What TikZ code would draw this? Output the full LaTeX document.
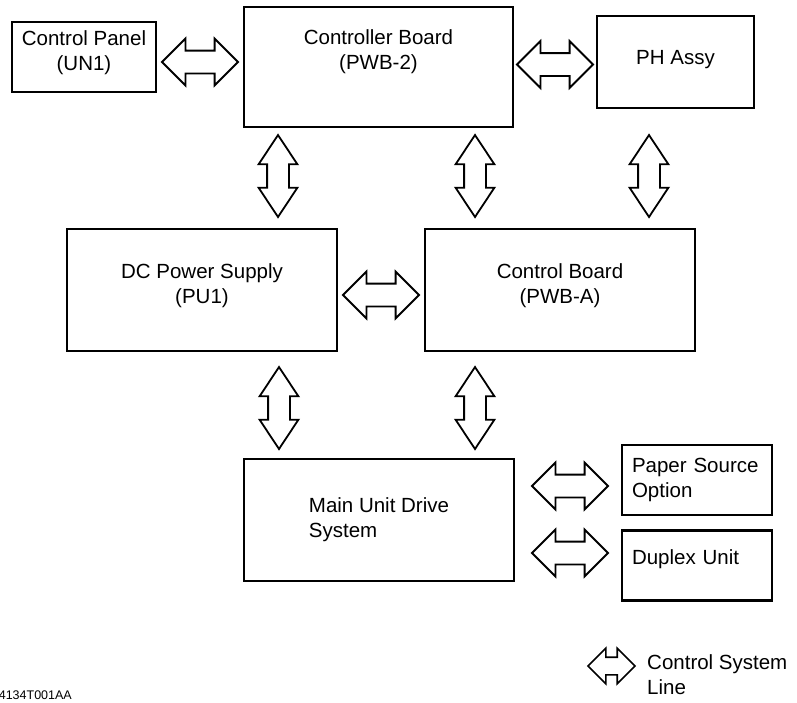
\documentclass[tikz,border=0pt]{standalone}
\usepackage{fontspec}
\setmainfont{Liberation Sans}
\usetikzlibrary{shapes.arrows,positioning,calc}

\begin{document}
\begin{tikzpicture}[
    x=1pt, y=-1pt,
    font=\fontsize{20.5}{25}\selectfont,
    unit/.style={
        draw,
        line width=2.6pt,
        align=center,
        inner sep=0pt
    },
    link/.style={
        draw,
        line width=1.8pt,
        double arrow,
        double arrow tip angle=90,
        double arrow head extend=12pt,
        minimum height=76pt,
        inner xsep=0pt,
        inner ysep=10.5pt
    },
    vlink/.style={
        link,
        rotate=90,
        double arrow tip angle=67,
        double arrow head extend=8.5pt,
        minimum height=82pt,
        inner ysep=10pt
    }
]
\useasboundingbox (0,0) rectangle (797,702);

\node[unit, minimum width=144pt, minimum height=70pt, text depth=12pt] (panel) at (84,57) {Control Panel\\(UN1)};
\node[unit, minimum width=269pt, minimum height=120pt, text depth=34pt] (ctrl) at (378.5,67) {Controller Board\\(PWB-2)};
\node[unit, minimum width=157pt, minimum height=92pt, text depth=10pt] (ph) at (675.5,62) {PH Assy};
\node[unit, minimum width=270pt, minimum height=122pt, text depth=13pt] (dc) at (202,290) {DC Power Supply\\(PU1)};
\node[unit, minimum width=270pt, minimum height=122pt, text depth=13pt] (cb) at (560,290) {Control Board\\(PWB-A)};
\node[unit, minimum width=270pt, minimum height=122pt, align=left] (drive) at (379,520) {Main Unit Drive\\System};
\node[unit, minimum width=150pt, minimum height=70pt, text width=130pt, align=left] (paper) at (697,480) {Paper Source\\Option};
\node[unit, minimum width=150pt, minimum height=70pt, text width=130pt, align=left, text depth=16.3pt, below=13pt of paper] (duplex) {Duplex Unit};

% control system lines
\node[link] (l1) at ($(panel.east)!0.5!(ctrl.west)$) {};
\node[link] (l2) at ($(ctrl.east)!0.5!(ph.west)$) {};
\node[link, yshift=-5pt] (l3) at ($(dc.east)!0.5!(cb.west)$) {};
\node[vlink] (v1) at (278,176) {};
\node[vlink] (v2) at (475,176) {};
\node[vlink] (v3) at (649,176) {};
\node[vlink] (v4) at (279,408) {};
\node[vlink] (v5) at (475,408) {};
\node[link] (l4) at (570,486) {};
\node[link] (l5) at (570,553) {};

% legend
\node[link, line width=1.6pt, minimum height=47pt, inner ysep=8pt, double arrow head extend=9pt] (key) at (611.5,666) {};
\node[anchor=north west, align=left, inner sep=0pt] (keytext) at (647,654) {Control System\\Line};
\node[anchor=east, inner sep=0pt, font=\fontsize{12.5}{15}\selectfont] (figid) at (72,695) {4134T001AA};
\end{tikzpicture}
\end{document}
